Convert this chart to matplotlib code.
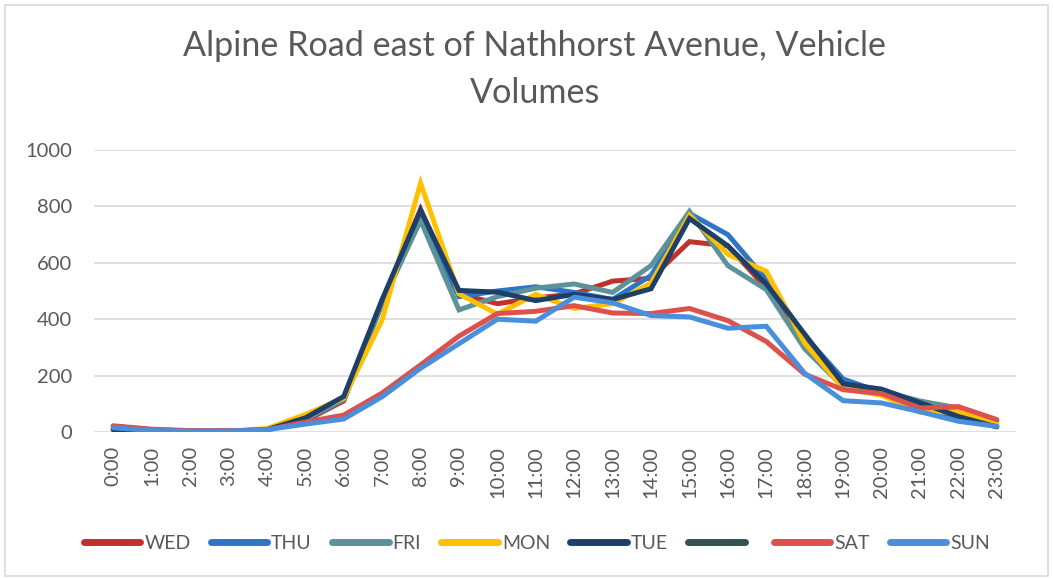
import matplotlib as mpl

mpl.use('Agg')
import matplotlib.pyplot as plt

# hourly vehicle counts
hours = ['%d:00' % h for h in range(24)]

wed = [20, 8, 4, 3, 8, 40, 110, 460, 790, 490, 455, 475, 490, 535, 545, 675, 660, 510, 330, 160, 135, 95, 80, 40]
thu = [10, 5, 3, 3, 8, 45, 115, 455, 760, 480, 500, 515, 495, 470, 555, 775, 700, 540, 340, 188, 140, 90, 50, 20]
fri = [12, 5, 3, 3, 8, 45, 115, 460, 750, 433, 480, 510, 525, 495, 590, 782, 590, 505, 295, 160, 145, 110, 85, 25]
mon = [12, 6, 3, 3, 12, 62, 120, 398, 882, 490, 418, 488, 438, 455, 528, 768, 630, 570, 315, 155, 130, 70, 72, 30]
tue = [8, 4, 3, 3, 8, 50, 126, 470, 786, 502, 496, 466, 488, 470, 508, 757, 660, 525, 347, 171, 152, 104, 55, 18]
blank = []
sat = [22, 10, 5, 4, 8, 35, 60, 138, 238, 340, 420, 428, 448, 422, 420, 438, 395, 321, 205, 150, 136, 85, 90, 44]
sun = [15, 5, 3, 3, 8, 28, 46, 125, 226, 313, 400, 393, 478, 458, 413, 408, 368, 375, 208, 111, 103, 72, 38, 20]

names = ['WED', 'THU', 'FRI', 'MON', 'TUE', ' ', 'SAT', 'SUN']
colors = ['#C0312C', '#2E75C6', '#5B9399', '#FFC000', '#1F3F6B', '#2F5551', '#DD514C', '#4A8FDB']
series = [wed, thu, fri, mon, tue, blank, sat, sun]

grey = '#595959'
plt.rcParams['font.family'] = ['Lato', 'DejaVu Sans']

fig = plt.figure(figsize=(10.53, 5.78), dpi=100)
ax = fig.add_axes([94 / 1053, 1 - 432 / 578, (1016 - 94) / 1053, (432 - 150) / 578])

x = list(range(24))
for vals, name, c in zip(series, names, colors):
    ax.plot(x[:len(vals)], vals, color=c, lw=3.6, label=name,
            solid_joinstyle='miter', solid_capstyle='round')

ax.set_xlim(-0.5, 23.5)
ax.set_ylim(0, 1000)
ax.set_yticks(range(0, 1001, 200))
ax.set_xticks(x)
ax.set_xticklabels(hours, rotation=90)
ax.tick_params(axis='both', length=0, labelsize=14.5, colors=grey)
ax.tick_params(axis='x', pad=10)
ax.tick_params(axis='y', pad=16)
ax.grid(axis='y', color='#d9d9d9', lw=1.2)
ax.set_axisbelow(True)
for s in ax.spines.values():
    s.set_visible(False)

fig.text(0.508, 0.948, 'Alpine Road east of Nathhorst Avenue, Vehicle\nVolumes',
         ha='center', va='top', fontsize=24.6, color=grey, linespacing=1.58)

leg = fig.legend(loc='center', bbox_to_anchor=(0.51, 0.06), ncol=8, frameon=False,
                 fontsize=14, handlelength=2.9, handletextpad=0.2, columnspacing=1.05)
for t in leg.get_texts():
    t.set_color(grey)
for h in leg.legend_handles:
    h.set_linewidth(5)

# light frame around the whole chart
fig.patches.append(plt.Rectangle((5 / 1053, 2 / 578), 1043 / 1053, 571 / 578,
                                 transform=fig.transFigure, fill=False,
                                 edgecolor='#d9d9d9', lw=1.2))

fig.savefig('out.png', dpi=100)
